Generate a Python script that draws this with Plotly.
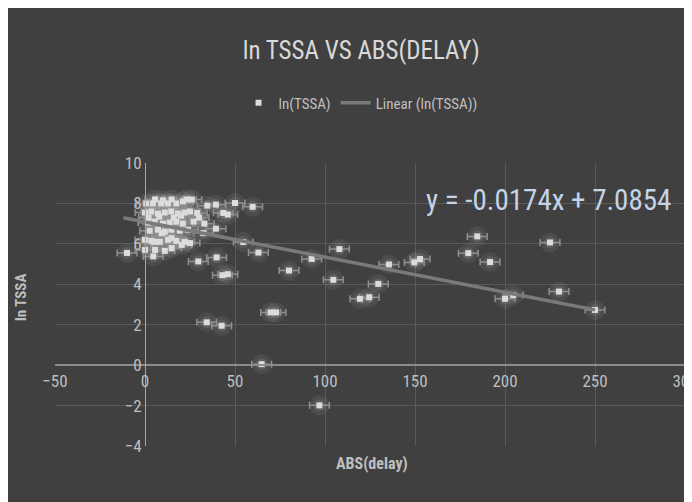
import plotly.graph_objects as go

# ---- data ----
abs_delay = [
    184.6, 179.6, 191.7, 225.0, 152.8, 149.6, 135.5, 200.0, 204.6, 230.0, 250.0,
    54.6, 63.0, 108.0, 92.6, 80.0, 104.6, 129.6, 119.4, 124.6, 69.8, 72.8,
    34.3, 42.6, 64.8, 96.9,
    50.0, 59.8, 39.4, 34.6, 43.5, 46.0, 29.0, 39.4, 32.4, 29.6, 39.8, 43.0, 46.0, 26.0,
    -10.0, 4.6, 0.0, 0.0, 5.0, 9.3, 14.8, 14.8, 20.4, 25.0,
    0.7, 4.4, 9.0, 12.8, 17.4, 21.1, 5.6, 10.0, 14.8, 23.0,
    0.0, 3.5, 7.2, 11.0, 14.6, 18.3, 22.0, 25.0,
    1.7, 5.4, 10.0, 13.7, 17.4, 21.0, 27.0,
    2.6, 7.2, 11.0, 14.6, 19.3, 24.0,
    3.5, 8.2, 12.8, 17.4, 22.0,
    5.6, 11.0,
    2.0, 8.0, 16.0, 20.0, 30.0, 33.0,
]
ln_tssa = [
    6.37, 5.54, 5.10, 6.07, 5.25, 5.08, 4.98, 3.28, 3.47, 3.64, 2.73,
    6.09, 5.57, 5.74, 5.25, 4.68, 4.22, 4.02, 3.28, 3.36, 2.61, 2.61,
    2.12, 1.95, 0.05, -1.99,
    8.02, 7.83, 7.94, 7.89, 7.53, 7.45, 7.53, 6.75, 6.53, 5.13, 5.33, 4.45, 4.50, 8.19,
    5.55, 5.38, 5.70, 6.20, 6.10, 6.53, 6.28, 5.79, 5.95, 6.04,
    8.00, 8.00, 8.00, 8.00, 8.00, 8.10, 8.20, 8.15, 8.20, 8.20,
    7.55, 7.60, 7.50, 7.55, 7.60, 7.50, 7.55, 7.60,
    7.05, 7.10, 7.00, 7.05, 7.10, 7.00, 7.10,
    6.65, 6.70, 6.60, 6.70, 6.65, 6.70,
    6.15, 6.10, 6.20, 6.15, 6.10,
    5.70, 5.65,
    7.30, 7.35, 7.30, 7.40, 7.30, 7.00,
]
x_error = 5.5
trend_slope = -0.0174
trend_intercept = 7.0854
trend_x = [-12.0, 250.0]
trend_y = [trend_slope * v + trend_intercept for v in trend_x]

x_ticks = [-50, 0, 50, 100, 150, 200, 250, 300]
y_ticks = [-4, -2, 0, 2, 4, 6, 8, 10]

FONT = "Roboto Condensed"
BG = "#404040"
TXT = "#bfbfbf"

fig = go.Figure()

# glow under markers
fig.add_trace(go.Scatter(
    x=abs_delay, y=ln_tssa, mode="markers", showlegend=False, hoverinfo="skip",
    marker=dict(size=20, color="rgba(235,235,235,0.07)", line=dict(width=0)),
))
fig.add_trace(go.Scatter(
    x=abs_delay, y=ln_tssa, mode="markers", showlegend=False, hoverinfo="skip",
    marker=dict(size=12, color="rgba(235,235,235,0.10)", line=dict(width=0)),
))
fig.add_trace(go.Scatter(
    x=abs_delay, y=ln_tssa, mode="markers", name="ln(TSSA)",
    marker=dict(size=6, symbol="square", color="#dcdcdc", line=dict(width=0)),
    error_x=dict(type="constant", value=x_error, color="#8f8f8f", thickness=1.5, width=3.5),
))
fig.add_trace(go.Scatter(
    x=trend_x, y=trend_y, mode="lines", name="Linear (ln(TSSA))",
    line=dict(color="#7a7a7a", width=3.5),
))

xmin, xmax = -50, 300
ymin, ymax = -4, 10

fig.update_layout(
    width=692, height=502,
    margin=dict(l=47, r=15, t=155, b=64, autoexpand=False),
    paper_bgcolor=BG,
    plot_bgcolor=BG,
    font=dict(family=FONT, color=TXT),
    title=dict(text="ln TSSA VS ABS(DELAY)", x=0.486, xref="paper", xanchor="center",
               y=1 - 42 / 502, yanchor="middle",
               font=dict(family=FONT, size=25, color="#d9d9d9")),
    legend=dict(orientation="h", x=0.485, xanchor="center", y=1.212, yanchor="middle",
                font=dict(family=FONT, size=15, color=TXT), bgcolor="rgba(0,0,0,0)",
                itemwidth=30),
    showlegend=True,
    xaxis=dict(range=[xmin, xmax], tickvals=x_ticks, showgrid=True, gridcolor="#5a5a5a",
               gridwidth=1, zeroline=False, anchor="free", position=(0 - ymin) / (ymax - ymin),
               showline=True, linecolor="#8c8c8c", linewidth=2, ticks="", automargin=False,
               tickfont=dict(family=FONT, size=17, color=TXT)),
    yaxis=dict(range=[ymin, ymax], tickvals=y_ticks, showgrid=True, gridcolor="#5a5a5a",
               gridwidth=1, zeroline=False, anchor="free", position=(0 - xmin) / (xmax - xmin),
               showline=True, linecolor="#a6a6a6", linewidth=1, ticks="", automargin=False,
               tickfont=dict(family=FONT, size=17, color=TXT)),
    annotations=[
        dict(text="y = -0.0174x + 7.0854", xref="paper", yref="paper",
             x=(548 - 55) / 630, y=(446 - 200) / 283, xanchor="center", yanchor="middle",
             showarrow=False, font=dict(family=FONT, size=29, color="#c5d3e6")),
        dict(text="<b>ABS(delay)</b>", xref="paper", yref="paper",
             x=(372 - 55) / 630, y=(446 - 463) / 283, xanchor="center", yanchor="middle",
             showarrow=False, font=dict(family=FONT, size=16, color=TXT)),
        dict(text="<b>ln TSSA</b>", xref="paper", yref="paper", textangle=-90,
             x=(21 - 55) / 630, y=(446 - 298) / 283, xanchor="center", yanchor="middle",
             showarrow=False, font=dict(family=FONT, size=15, color=TXT)),
    ],
)

fig.write_html("out.html")
